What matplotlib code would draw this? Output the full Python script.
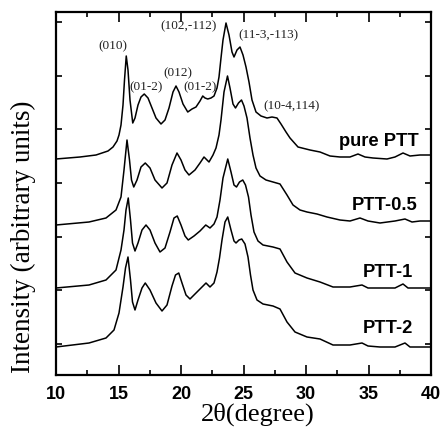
import numpy as np
import matplotlib
matplotlib.use("Agg")
import matplotlib.pyplot as plt

# ---------------- data (2theta in degrees, intensity in arbitrary units) ----------------
pure_x = [10.0, 11.92, 13.2, 14.16, 14.56, 14.88, 15.04, 15.2, 15.36, 15.48, 15.62, 15.76, 15.92,
          16.14, 16.32, 16.56, 16.8, 17.06, 17.36, 17.68, 18.0, 18.4, 18.72, 19.04, 19.36, 19.6,
          19.84, 20.16, 20.54, 20.88, 21.2, 21.52, 21.74, 21.92, 22.14, 22.4, 22.64, 22.88, 23.04,
          23.2, 23.36, 23.6, 23.84, 24.08, 24.24, 24.48, 24.72, 24.96, 25.2, 25.44, 25.68, 26.0,
          26.4, 26.88, 27.28, 27.68, 28.0, 28.4, 28.72, 29.36, 30.32, 31.12, 31.92, 32.72, 33.52,
          34.16, 34.72, 35.36, 36.48, 37.12, 37.76, 38.32, 39.12, 40.0]
pure_y = [216, 218, 220, 224, 228, 234, 240, 250, 270, 295, 319, 305, 275,
          252, 257, 270, 278, 281, 277, 267, 257, 251, 255, 267, 283, 289,
          283, 271, 263, 266, 268, 274, 279, 277, 276, 277, 279, 287, 298,
          317, 335, 352, 340, 323, 318, 325, 328, 320, 308, 293, 275, 263,
          259, 257, 258, 257, 251, 243, 237, 228, 225, 223, 219, 218, 218,
          221, 218, 217, 216, 218, 222, 219, 220, 220]

p05_x = [10.0, 12.64, 14.0, 14.8, 15.2, 15.44, 15.68, 15.88, 16.04, 16.22, 16.48, 16.8, 17.14,
         17.52, 17.92, 18.48, 18.88, 19.28, 19.68, 20.0, 20.32, 20.64, 21.12, 21.52, 21.84, 22.24,
         22.56, 22.8, 23.04, 23.2, 23.44, 23.72, 23.92, 24.16, 24.36, 24.6, 24.84, 25.04, 25.28,
         25.52, 25.76, 26.0, 26.32, 26.8, 27.36, 27.92, 28.48, 28.96, 29.52, 30.08, 30.88, 31.68,
         32.72, 33.52, 34.32, 34.96, 35.92, 37.12, 37.92, 38.48, 39.12, 40.0]
p05_y = [150, 153, 157, 165, 178, 205, 235, 215, 195, 188, 195, 208, 212,
         207, 195, 187, 192, 210, 222, 215, 205, 200, 205, 212, 218, 213,
         220, 227, 240, 255, 283, 299, 287, 271, 267, 272, 275, 269, 257,
         237, 220, 207, 199, 195, 193, 191, 180, 170, 165, 163, 161, 158,
         155, 154, 157, 154, 152, 154, 156, 153, 154, 154]

p1_x = [10.0, 12.64, 14.0, 14.8, 15.2, 15.44, 15.6, 15.78, 15.96, 16.12, 16.32, 16.56, 16.88,
        17.2, 17.52, 17.92, 18.32, 18.72, 19.12, 19.44, 19.7, 20.0, 20.32, 20.58, 21.04, 21.52,
        21.98, 22.32, 22.64, 22.88, 23.12, 23.36, 23.74, 24.0, 24.24, 24.44, 24.68, 24.94, 25.16,
        25.4, 25.6, 25.84, 26.16, 26.56, 27.36, 27.92, 28.48, 29.12, 30.08, 31.12, 32.16, 33.52,
        34.48, 34.96, 35.92, 37.12, 37.76, 38.16, 40.0]
p1_y = [87, 90, 95, 105, 125, 145, 165, 177, 155, 132, 124, 132, 145,
        150, 145, 132, 123, 127, 143, 157, 159, 150, 139, 135, 139, 144,
        150, 147, 151, 158, 175, 197, 216, 203, 190, 188, 193, 195, 190,
        178, 160, 143, 134, 130, 128, 126, 113, 102, 97, 93, 88, 88,
        90, 87, 87, 87, 91, 87, 87]

p2_x = [10.0, 12.64, 14.0, 14.64, 15.04, 15.36, 15.56, 15.76, 15.96, 16.12, 16.32, 16.56, 16.88,
        17.14, 17.52, 18.0, 18.48, 18.88, 19.28, 19.56, 19.82, 20.08, 20.4, 20.72, 21.2, 21.68,
        22.0, 22.32, 22.64, 22.88, 23.08, 23.28, 23.52, 23.74, 24.0, 24.24, 24.4, 24.64, 24.86,
        25.12, 25.36, 25.56, 25.76, 26.08, 26.56, 27.36, 27.92, 28.48, 29.12, 30.08, 31.12, 32.16,
        33.52, 34.48, 34.96, 35.92, 37.12, 37.92, 38.32, 40.0]
p2_y = [28, 32, 37, 45, 62, 88, 107, 118, 95, 73, 65, 75, 87,
        92, 85, 72, 64, 70, 89, 100, 102, 92, 80, 76, 82, 88,
        92, 88, 92, 103, 117, 135, 153, 158, 145, 134, 132, 135, 136,
        131, 118, 100, 85, 75, 71, 69, 66, 53, 43, 38, 36, 30,
        30, 32, 29, 28, 28, 32, 28, 28]

sample_names = ["pure PTT", "PTT-0.5", "PTT-1", "PTT-2"]
name_x = [39.04, 38.88, 38.56, 38.56]
name_y = [229, 165, 98, 42]

peak_labels = ["(010)", "(01-2)", "(012)", "(01-2)", "(102,-112)", "(11-3,-113)", "(10-4,114)"]
peak_label_x = [14.52, 17.24, 19.76, 21.56, 20.6, 26.96, 28.84]
peak_label_y = [329, 288, 302, 288, 349, 340, 269]

x_ticks = [10, 15, 20, 25, 30, 35, 40]

# ---------------- figure ----------------
fig = plt.figure(figsize=(4.45, 4.34), dpi=100)
ax = fig.add_axes([56 / 445, 1 - 375 / 434, (431 - 56) / 445, (375 - 12) / 434])

for xs, ys in [(pure_x, pure_y), (p05_x, p05_y), (p1_x, p1_y), (p2_x, p2_y)]:
    ax.plot(xs, ys, color="black", lw=1.1)

for name, nx, ny in zip(sample_names, name_x, name_y):
    ax.text(nx, ny, name, ha="right", va="baseline", fontsize=13.2, fontweight="bold",
            family="Liberation Sans")

for lab, lx, ly in zip(peak_labels, peak_label_x, peak_label_y):
    ax.text(lx, ly, lab, ha="center", va="center", fontsize=9.5, family="Liberation Serif",
            color="#222222")

ax.set_xlim(10, 40)
ax.set_ylim(0, 363)
ax.set_xticks(x_ticks)
ax.set_xticks(np.arange(12.5, 40, 5), minor=True)
ax.set_yticks(np.arange(31, 363, 53.7))
ax.set_yticklabels([])
ax.tick_params(axis="both", which="both", direction="in", top=True, right=True, width=1.2)
ax.tick_params(axis="x", which="major", length=7, labelsize=13, pad=8)
ax.tick_params(axis="x", which="minor", length=3.5)
ax.tick_params(axis="y", which="major", length=4)
for lbl in ax.get_xticklabels():
    lbl.set_fontweight("bold")
    lbl.set_family("Liberation Sans")
for sp in ax.spines.values():
    sp.set_linewidth(1.6)

ax.set_xlabel("2θ(degree)", fontsize=19, family="Liberation Serif")
ax.set_ylabel("Intensity (arbitrary units)", fontsize=19.5, family="Liberation Serif")
ax.xaxis.set_label_coords(0.539, -0.075)
ax.yaxis.set_label_coords(-0.053, 0.382)

fig.savefig("out.png", dpi=100)
